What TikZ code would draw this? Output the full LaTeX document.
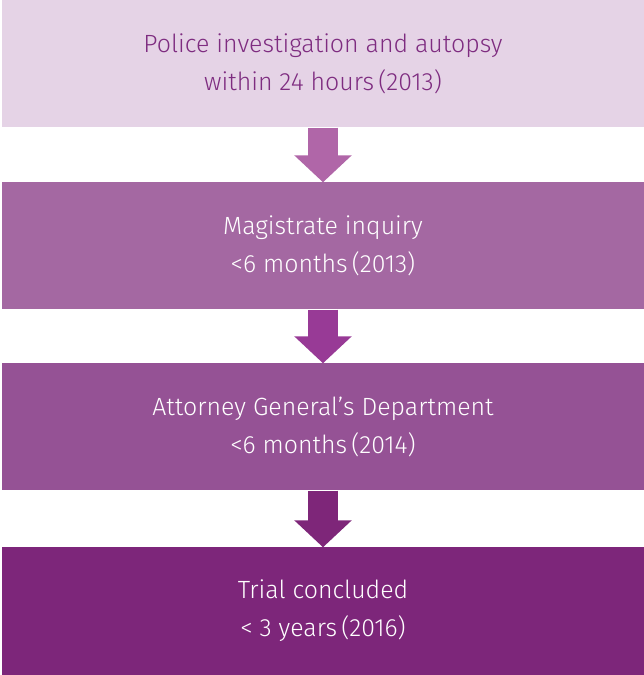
\documentclass[tikz,border=0pt]{standalone}
\usepackage{fontspec}
\setmainfont{Fira Sans Light}
\usepackage{xcolor}
\usetikzlibrary{arrows.meta}

\definecolor{stepOne}{HTML}{E5D3E6}
\definecolor{stepTwo}{HTML}{A468A2}
\definecolor{stepThree}{HTML}{955295}
\definecolor{stepFour}{HTML}{7D267A}
\definecolor{arrowOne}{HTML}{B066A8}
\definecolor{arrowTwo}{HTML}{983A96}
\definecolor{arrowThree}{HTML}{7E2679}
\definecolor{textDark}{HTML}{7E2C80}

\begin{document}
\begin{tikzpicture}[x=1bp, y=1bp,
    stage/.style={minimum width=642bp, minimum height=127bp, inner sep=0pt,
        align=center, font=\fontsize{25}{38}\selectfont},
    flow/.style={line width=30bp, -{Triangle[width=56bp, length=27bp]}}]
    \useasboundingbox (0,0) rectangle (644,675);

    \node[stage, fill=stepOne, text=textDark] (police) at (323,611)
        {Police investigation and autopsy\\within 24 hours\,(2013)};
    \node[stage, fill=stepTwo, text=white] (magistrate) at (323,429)
        {Magistrate inquiry\\<6 months\,(2013)};
    \node[stage, fill=stepThree, text=white] (attorney) at (323,248)
        {Attorney General’s Department\\<6 months\,(2014)};
    \node[stage, fill=stepFour, text=white] (trial) at (323,64)
        {Trial concluded\\< 3 years\,(2016)};

    \draw[flow, arrowOne] (police.south) -- (magistrate.north);
    \draw[flow, arrowTwo] (magistrate.south) -- (attorney.north);
    \draw[flow, arrowThree] (attorney.south) -- (trial.north);
\end{tikzpicture}
\end{document}
